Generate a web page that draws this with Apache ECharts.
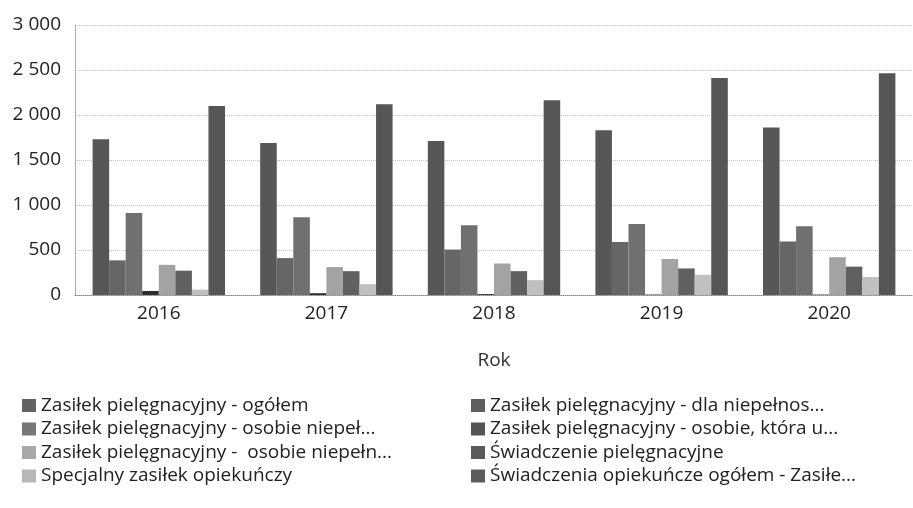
<!DOCTYPE html>
<html>
<head>
<meta charset="utf-8">
<script src="https://cdn.jsdelivr.net/npm/echarts@6/dist/echarts.min.js"></script>
<style>
html,body{margin:0;padding:0;background:#fff;}
#main{width:913px;height:508px;}
</style>
</head>
<body>
<div id="main"></div>
<script>
const categories = ['2016', '2017', '2018', '2019', '2020'];
const seriesNames = [
  'Zasiłek pielęgnacyjny - ogółem',
  'Zasiłek pielęgnacyjny - dla niepełnos...',
  'Zasiłek pielęgnacyjny - osobie niepeł...',
  'Zasiłek pielęgnacyjny - osobie, która u...',
  'Zasiłek pielęgnacyjny -  osobie niepełn...',
  'Świadczenie pielęgnacyjne',
  'Specjalny zasiłek opiekuńczy',
  'Świadczenia opiekuńcze ogółem - Zasiłe...'
];
const s1 = [1730, 1690, 1710, 1830, 1860];
const s2 = [385, 410, 505, 590, 595];
const s3 = [910, 865, 775, 790, 765];
const s4 = [45, 20, 10, 5, 5];
const s5 = [335, 310, 350, 400, 420];
const s6 = [270, 265, 265, 295, 315];
const s7 = [60, 120, 165, 225, 200];
const s8 = [2100, 2120, 2165, 2410, 2465];
const seriesValues = [s1, s2, s3, s4, s5, s6, s7, s8];
const colors = ['#575757', '#666666', '#707070', '#2e2e2e', '#a3a3a3', '#606060', '#c0c0c0', '#565656'];
const legendColors = ['#636363', '#5e5e5e', '#777777', '#555555', '#a8a8a8', '#5a5a5a', '#b8b8b8', '#5c5c5c'];

const chart = echarts.init(document.getElementById('main'));
const font = 'Open Sans, Noto Sans, sans-serif';
const series = seriesNames.map((n, i) => ({
  name: n,
  type: 'bar',
  data: seriesValues[i],
  barGap: '0%',
  barCategoryGap: '21%',
  itemStyle: { color: colors[i] }
}));
const legendItem = i => ({ name: seriesNames[i], itemStyle: { color: legendColors[i] } });
const legendStyle = {
  orient: 'vertical',
  itemWidth: 14,
  itemHeight: 13,
  itemGap: 4.5,
  icon: 'rect',
  textStyle: { fontFamily: font, fontSize: 19, lineHeight: 19, color: '#222' }
};
chart.setOption({
  animation: false,
  textStyle: { fontFamily: font },
  grid: { left: 75, top: 25, width: 850, height: 270 },
  legend: [
    Object.assign({ left: 17, top: 391, data: [0, 2, 4, 6].map(legendItem) }, legendStyle),
    Object.assign({ left: 466, top: 391, data: [1, 3, 5, 7].map(legendItem) }, legendStyle)
  ],
  xAxis: {
    type: 'category',
    data: categories,
    name: 'Rok',
    nameLocation: 'middle',
    nameGap: 56,
    nameTextStyle: { fontFamily: font, fontSize: 19, color: '#333' },
    axisLine: { show: true, lineStyle: { color: '#888', type: 'dotted' } },
    axisTick: { show: false },
    axisLabel: { fontFamily: font, fontSize: 19, color: '#222', margin: 9 }
  },
  yAxis: {
    type: 'value',
    min: 0,
    max: 3000,
    interval: 500,
    axisLine: { show: true, lineStyle: { color: '#999', type: 'dotted' } },
    axisTick: { show: false },
    axisLabel: {
      fontFamily: font, fontSize: 19, color: '#222', margin: 14,
      formatter: v => String(v).replace(/\B(?=(\d{3})+(?!\d))/g, ' ')
    },
    splitLine: { show: true, lineStyle: { color: '#c4c4c4', type: 'dotted' } }
  },
  series: series
});
</script>
</body>
</html>
